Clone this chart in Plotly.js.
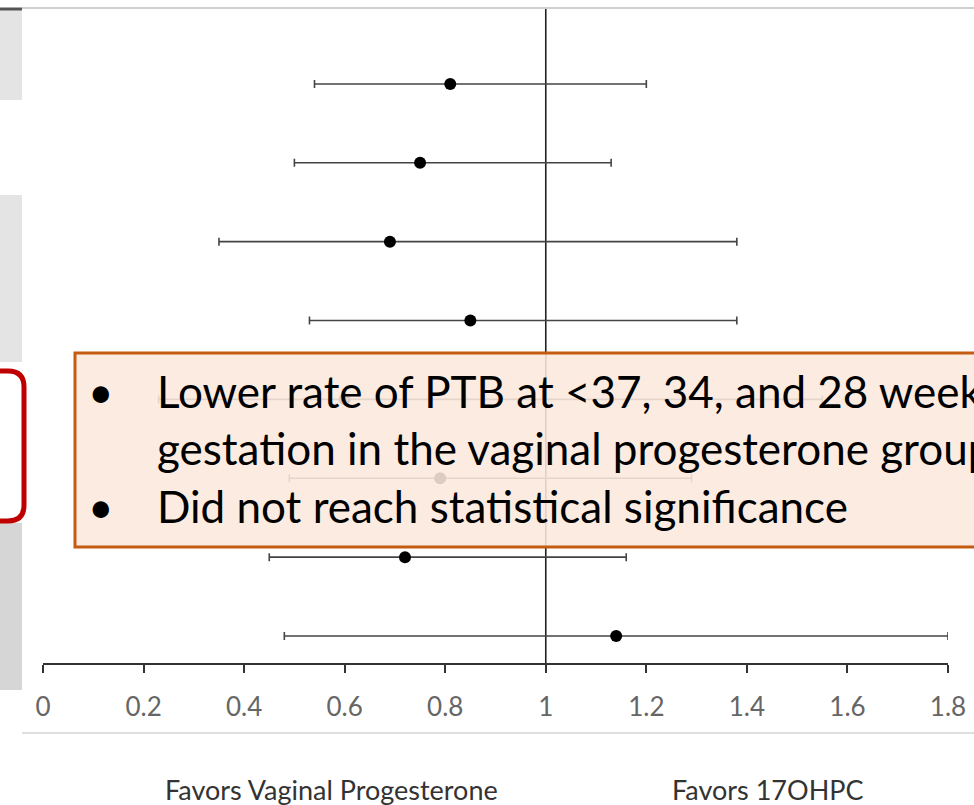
<!DOCTYPE html>
<html>
<head>
<meta charset="utf-8">
<script src="https://cdn.plot.ly/plotly-3.0.1.min.js"></script>
<style>html,body{margin:0;padding:0;background:#fff;}#chart{width:974px;height:805px;}</style>
</head>
<body>
<div id="chart"></div>
<script>
// ---- data ----
const rowPos   = [8, 7, 6, 5, 4, 3, 2, 1];
const oddsRatio = [0.81, 0.75, 0.69, 0.85, 0.60, 0.79, 0.72, 1.14];
const ciLow     = [0.54, 0.50, 0.35, 0.53, 0.23, 0.49, 0.45, 0.48];
const ciHigh    = [1.20, 1.13, 1.38, 1.38, 1.55, 1.29, 1.16, 1.80];
const tickVals  = [0, 0.2, 0.4, 0.6, 0.8, 1, 1.2, 1.4, 1.6, 1.8];
const tickText  = ['0', '0.2', '0.4', '0.6', '0.8', '1', '1.2', '1.4', '1.6', '1.8'];
const leftLabel  = 'Favors Vaginal Progesterone';
const rightLabel = 'Favors 17OHPC';
const bulletLines = [
  'Lower rate of PTB at <37, 34, and 28 weeks',
  'gestation in the vaginal progesterone group',
  'Did not reach statistical significance'
];

// ---- geometry helpers (pixel -> paper) ----
const W = 974, H = 805;
const M = {l: 43, r: 26, t: 9, b: 142};
const PW = W - M.l - M.r, PH = H - M.t - M.b;
const fx = px => (px - M.l) / PW;
const fy = py => 1 - (py - M.t) / PH;

const errPlus  = oddsRatio.map((v, i) => ciHigh[i] - v);
const errMinus = oddsRatio.map((v, i) => v - ciLow[i]);

const trace = {
  type: 'scatter', mode: 'markers',
  x: oddsRatio, y: rowPos,
  marker: {color: '#000', size: 12},
  error_x: {type: 'data', symmetric: false, array: errPlus, arrayminus: errMinus,
            color: '#444', thickness: 1.6, width: 4},
  hoverinfo: 'skip', showlegend: false
};

function roundRectPath(x0, y0, x1, y1, r) {
  const P = (x, y) => fx(x) + ',' + fy(y);
  return 'M' + P(x0 + r, y0) + ' L' + P(x1 - r, y0) + ' Q' + P(x1, y0) + ' ' + P(x1, y0 + r) +
         ' L' + P(x1, y1 - r) + ' Q' + P(x1, y1) + ' ' + P(x1 - r, y1) +
         ' L' + P(x0 + r, y1) + ' Q' + P(x0, y1) + ' ' + P(x0, y1 - r) +
         ' L' + P(x0, y0 + r) + ' Q' + P(x0, y0) + ' ' + P(x0 + r, y0) + ' Z';
}

const shapes = [
  // left gray bands
  {type: 'rect', xref: 'paper', yref: 'paper', x0: fx(-5), x1: fx(22), y0: fy(100), y1: fy(10),
   fillcolor: '#e4e4e4', line: {width: 0}, layer: 'below'},
  {type: 'rect', xref: 'paper', yref: 'paper', x0: fx(-5), x1: fx(22), y0: fy(362), y1: fy(195),
   fillcolor: '#e4e4e4', line: {width: 0}, layer: 'below'},
  {type: 'rect', xref: 'paper', yref: 'paper', x0: fx(-5), x1: fx(22), y0: fy(690), y1: fy(523),
   fillcolor: '#d6d6d6', line: {width: 0}, layer: 'below'},
  // top and bottom rules
  {type: 'line', xref: 'paper', yref: 'paper', x0: fx(22), x1: fx(980), y0: fy(8), y1: fy(8),
   line: {color: '#cfcfcf', width: 2}, layer: 'below'},
  {type: 'line', xref: 'paper', yref: 'paper', x0: fx(-5), x1: fx(22), y0: fy(9), y1: fy(9),
   line: {color: '#555', width: 3}, layer: 'below'},
  {type: 'line', xref: 'paper', yref: 'paper', x0: fx(22), x1: fx(980), y0: fy(733), y1: fy(733),
   line: {color: '#dedede', width: 2}, layer: 'below'},
  // reference line at 1
  {type: 'line', xref: 'x', yref: 'paper', x0: 1, x1: 1, y0: 0, y1: 1,
   line: {color: '#222', width: 1.6}, layer: 'below'},
  // red rounded highlight
  {type: 'path', xref: 'paper', yref: 'paper', path: roundRectPath(-30, 371, 24, 521, 16),
   fillcolor: 'rgba(255,255,255,0)', line: {color: '#C00000', width: 5}, layer: 'above'},
  // callout box
  {type: 'rect', xref: 'paper', yref: 'paper', x0: fx(75), x1: fx(1000), y0: fy(547), y1: fy(353),
   fillcolor: 'rgba(251,232,220,0.88)', line: {color: '#C55A11', width: 3}, layer: 'above'}
];

const textFont = {family: 'Lato, "Open Sans", sans-serif', size: 44, color: '#000'};
const baselines = [408, 465, 523];
const annotations = [];
bulletLines.forEach((t, i) => {
  annotations.push({xref: 'paper', yref: 'paper', x: fx(155), y: fy(baselines[i] - 17),
    xanchor: 'left', yanchor: 'middle', text: t, showarrow: false, font: textFont});
});
[0, 2].forEach(i => {
  annotations.push({xref: 'paper', yref: 'paper', x: fx(101), y: fy(baselines[i] - 17),
    xanchor: 'center', yanchor: 'middle', text: '•', showarrow: false, font: textFont});
});
const labFont = {family: 'Lato, sans-serif', size: 27, color: '#333'};
annotations.push({xref: 'paper', yref: 'paper', x: fx(331), y: fy(789), xanchor: 'center', yanchor: 'middle',
  text: leftLabel, showarrow: false, font: labFont});
annotations.push({xref: 'paper', yref: 'paper', x: fx(768), y: fy(789), xanchor: 'center', yanchor: 'middle',
  text: rightLabel, showarrow: false, font: labFont});

const layout = {
  width: W, height: H,
  margin: M,
  paper_bgcolor: '#fff', plot_bgcolor: 'rgba(0,0,0,0)',
  showlegend: false,
  xaxis: {range: [0, 1.8], tickvals: tickVals, ticktext: tickText, showgrid: false, zeroline: false,
          showline: true, linecolor: '#333', linewidth: 2, ticks: 'outside', ticklen: 8, tickwidth: 2,
          tickcolor: '#333', ticklabelstandoff: 12,
          tickfont: {family: 'Lato, sans-serif', size: 26, color: '#666'}, fixedrange: true},
  yaxis: {range: [0.658, 8.95], showgrid: false, zeroline: false, showline: false,
          showticklabels: false, ticks: '', fixedrange: true},
  shapes: shapes,
  annotations: annotations
};

Plotly.newPlot('chart', [trace], layout, {displayModeBar: false, staticPlot: true});
</script>
</body>
</html>
